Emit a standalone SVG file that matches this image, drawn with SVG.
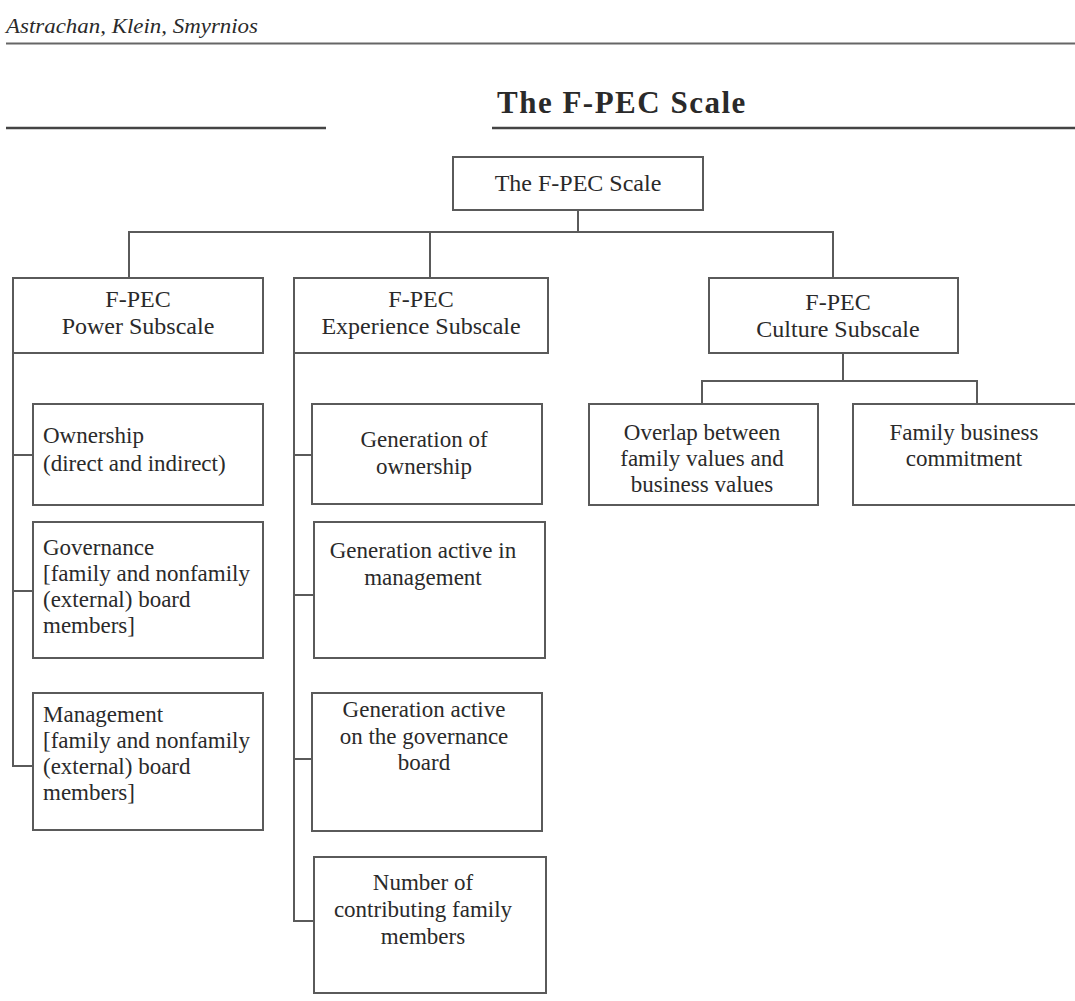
<svg xmlns="http://www.w3.org/2000/svg" width="1075" height="1001" viewBox="0 0 1075 1001">
<style>
  .bg{fill:#ffffff}
  .box{fill:#ffffff;stroke:#5a5a5a;stroke-width:2}
  .ln{fill:none;stroke:#5a5a5a;stroke-width:2}
  .rule{stroke:#444444;stroke-width:2.5}
  text{font-family:"Liberation Serif","Times New Roman",serif;fill:#2a2a2a}
  .t{font-size:23px}
  .h{font-size:24px}
  .c{text-anchor:middle}
  .hdr{font-size:21px;font-style:italic}
  .ttl{font-size:31px;font-weight:bold;letter-spacing:1.5px}
</style>
<rect class="bg" x="0" y="0" width="1075" height="1001"/>

<g id="page-header">
  <text class="hdr" x="6" y="33" textLength="252" lengthAdjust="spacingAndGlyphs">Astrachan, Klein, Smyrnios</text>
  <line class="rule" x1="6" y1="43.5" x2="1075" y2="43.5" style="stroke-width:2;stroke:#666"/>
  <text class="ttl" x="497" y="113">The F-PEC Scale</text>
  <line class="rule" x1="6" y1="128" x2="326" y2="128"/>
  <line class="rule" x1="492" y1="128" x2="1075" y2="128"/>
</g>

<g id="connectors">
  <path class="ln" d="M578 210 V232"/>
  <path class="ln" d="M129 278 V232 H833 V278"/>
  <path class="ln" d="M430 232 V278"/>
  <path class="ln" d="M843 353 V381"/>
  <path class="ln" d="M702 404 V381 H977 V404"/>
  <path class="ln" d="M13 353 V766 H33"/>
  <path class="ln" d="M13 455 H33"/>
  <path class="ln" d="M13 591 H33"/>
  <path class="ln" d="M294 353 V921 H314"/>
  <path class="ln" d="M294 455 H312"/>
  <path class="ln" d="M294 595 H314"/>
  <path class="ln" d="M294 759 H312"/>
</g>

<g id="root">
  <rect class="box" x="453" y="157" width="250" height="53"/>
  <text class="h c" x="578" y="191">The F-PEC Scale</text>
</g>

<g id="power">
  <rect class="box" x="13" y="278" width="250" height="75"/>
  <text class="h c" x="138" y="307">F-PEC</text>
  <text class="h c" x="138" y="334">Power Subscale</text>
</g>

<g id="experience">
  <rect class="box" x="294" y="278" width="254" height="75"/>
  <text class="h c" x="421" y="307">F-PEC</text>
  <text class="h c" x="421" y="334">Experience Subscale</text>
</g>

<g id="culture">
  <rect class="box" x="709" y="278" width="249" height="75"/>
  <text class="h c" x="838" y="310">F-PEC</text>
  <text class="h c" x="838" y="337">Culture Subscale</text>
</g>

<g id="ownership">
  <rect class="box" x="33" y="404" width="230" height="101"/>
  <text class="t" x="43" y="443">Ownership</text>
  <text class="t" x="43" y="471">(direct and indirect)</text>
</g>

<g id="governance">
  <rect class="box" x="33" y="522" width="230" height="136"/>
  <text class="t" x="43" y="555">Governance</text>
  <text class="t" x="43" y="581">[family and nonfamily</text>
  <text class="t" x="43" y="607">(external) board</text>
  <text class="t" x="43" y="633">members]</text>
</g>

<g id="management">
  <rect class="box" x="33" y="693" width="230" height="137"/>
  <text class="t" x="43" y="722">Management</text>
  <text class="t" x="43" y="748">[family and nonfamily</text>
  <text class="t" x="43" y="774">(external) board</text>
  <text class="t" x="43" y="800">members]</text>
</g>

<g id="gen-ownership">
  <rect class="box" x="312" y="404" width="230" height="100"/>
  <text class="t c" x="424" y="447">Generation of</text>
  <text class="t c" x="424" y="474">ownership</text>
</g>

<g id="gen-management">
  <rect class="box" x="314" y="522" width="231" height="136"/>
  <text class="t c" x="423" y="558">Generation active in</text>
  <text class="t c" x="423" y="585">management</text>
</g>

<g id="gen-board">
  <rect class="box" x="312" y="693" width="230" height="138"/>
  <text class="t c" x="424" y="717">Generation active</text>
  <text class="t c" x="424" y="744">on the governance</text>
  <text class="t c" x="424" y="770">board</text>
</g>

<g id="family-members">
  <rect class="box" x="314" y="857" width="232" height="136"/>
  <text class="t c" x="423" y="890">Number of</text>
  <text class="t c" x="423" y="917">contributing family</text>
  <text class="t c" x="423" y="944">members</text>
</g>

<g id="overlap">
  <rect class="box" x="589" y="404" width="229" height="101"/>
  <text class="t c" x="702" y="440">Overlap between</text>
  <text class="t c" x="702" y="466">family values and</text>
  <text class="t c" x="702" y="492">business values</text>
</g>

<g id="commitment">
  <rect class="box" x="853" y="404" width="230" height="101"/>
  <text class="t c" x="964" y="440">Family business</text>
  <text class="t c" x="964" y="466">commitment</text>
</g>
</svg>
